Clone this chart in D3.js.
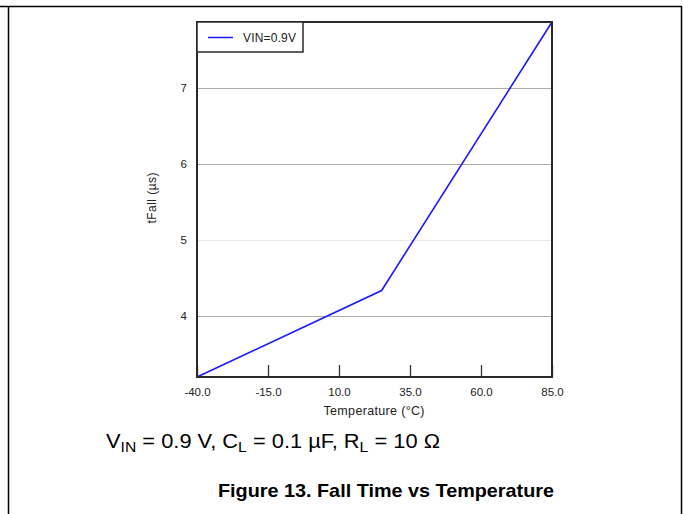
<!DOCTYPE html>
<html><head><meta charset="utf-8">
<script src="https://cdn.jsdelivr.net/npm/d3@7"></script>
<style>body{margin:0;background:#fff;}svg{display:block;font-family:"Liberation Sans",Arial,sans-serif;}</style>
</head><body>
<script>
const temps = [-40, 25, 85];
const tFall = [3.19, 4.33, 7.87];
const xTicks = [-40, -15, 10, 35, 60, 85];
const yTicks = [4, 5, 6, 7];
const seriesName = "VIN=0.9V";

const W = 683, H = 514;
const svg = d3.select("body").append("svg").attr("width", W).attr("height", H);

// outer frame
svg.append("line").attr("x1",0).attr("x2",682).attr("y1",6.5).attr("y2",6.5).attr("stroke","#000").attr("stroke-width",1.5);
svg.append("line").attr("x1",8.5).attr("x2",8.5).attr("y1",6).attr("y2",H).attr("stroke","#000").attr("stroke-width",1.5);
svg.append("line").attr("x1",681.5).attr("x2",681.5).attr("y1",6).attr("y2",H).attr("stroke","#000").attr("stroke-width",1.5);

const L=197, R=552, T=22, B=377;
const x = d3.scaleLinear().domain([-40,85]).range([L,R]);
const y = d3.scaleLinear().domain([3.19,7.87]).range([B,T]);

// gridlines
svg.append("g").selectAll("line").data(yTicks).join("line")
  .attr("x1",L).attr("x2",R).attr("y1",d=>Math.round(y(d))+0.5).attr("y2",d=>Math.round(y(d))+0.5)
  .attr("stroke",d=>d===5?"#e6e6e6":"#ababab").attr("stroke-width",1);

// x axis ticks (inward)
const fmt = d => d.toFixed(1);
const xAxis = d3.axisBottom(x).tickValues(xTicks).tickFormat(fmt).tickSizeInner(-12).tickSizeOuter(0).tickPadding(11);
const gx = svg.append("g").attr("transform",`translate(0,${B})`).call(xAxis);
gx.select(".domain").remove();
gx.selectAll(".tick line").attr("stroke","#333").attr("stroke-width",1.3);
gx.selectAll(".tick text").attr("fill","#222").style("font-size","11.5px");

// y axis labels
const yAxis = d3.axisLeft(y).tickValues(yTicks).tickFormat(d3.format("d")).tickSize(0).tickPadding(10);
const gy = svg.append("g").attr("transform",`translate(${L},0)`).call(yAxis);
gy.select(".domain").remove();
gy.selectAll(".tick text").attr("fill","#222").style("font-size","11.5px");

// data line
const line = d3.line().x((d,i)=>x(temps[i])).y(d=>y(d));
svg.append("path").datum(tFall).attr("d",line).attr("fill","none").attr("stroke","#1a1aff").attr("stroke-width",1.6);

// plot border
svg.append("rect").attr("x",L).attr("y",T).attr("width",R-L).attr("height",B-T)
  .attr("fill","none").attr("stroke","#2a2a2a").attr("stroke-width",2);

// legend
svg.append("rect").attr("x",L).attr("y",T).attr("width",106).attr("height",30)
  .attr("fill","#fff").attr("stroke","#2a2a2a").attr("stroke-width",1.5);
svg.append("line").attr("x1",208).attr("x2",233).attr("y1",37.5).attr("y2",37.5).attr("stroke","#1a1aff").attr("stroke-width",1.5);
svg.append("text").attr("x",243).attr("y",41.5).text(seriesName).style("font-size","12px").attr("textLength",53).attr("fill","#222");

// axis titles
svg.append("text").attr("x",374).attr("y",415).attr("text-anchor","middle").style("font-size","12.5px").attr("textLength",101).attr("fill","#222").text("Temperature (°C)");
svg.append("text").attr("transform","translate(156,198) rotate(-90)").attr("text-anchor","middle").style("font-size","12px").attr("textLength",51).attr("fill","#222").text("tFall (µs)");

// caption
const cap = svg.append("text").attr("x",106).attr("y",448).style("font-size","19.5px").attr("fill","#000")
  .attr("textLength",334).attr("lengthAdjust","spacingAndGlyphs");
cap.append("tspan").text("V");
cap.append("tspan").attr("dy",4).style("font-size","14px").text("IN");
cap.append("tspan").attr("dy",-4).text(" = 0.9 V, C");
cap.append("tspan").attr("dy",4).style("font-size","14px").text("L");
cap.append("tspan").attr("dy",-4).text(" = 0.1 µF, R");
cap.append("tspan").attr("dy",4).style("font-size","14px").text("L");
cap.append("tspan").attr("dy",-4).text(" = 10 Ω");

svg.append("text").attr("x",386).attr("y",497).attr("text-anchor","middle").style("font-size","18.5px").style("font-weight","bold")
  .attr("textLength",336).attr("lengthAdjust","spacingAndGlyphs").text("Figure 13. Fall Time vs Temperature");
</script>
</body></html>
